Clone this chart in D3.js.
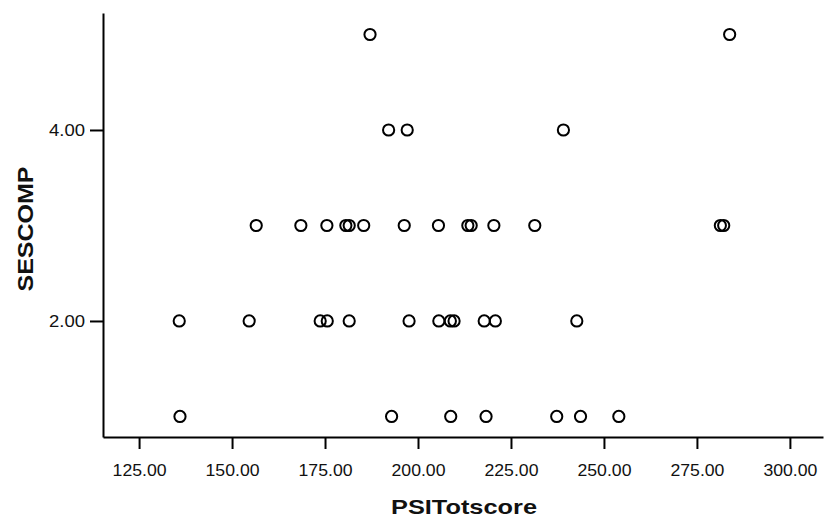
<!DOCTYPE html>
<html><head><meta charset="utf-8">
<script src="https://cdn.jsdelivr.net/npm/d3@7"></script>
<style>body{margin:0;background:#fff}svg{display:block}</style>
</head><body>
<svg id="c" width="825" height="520"></svg>
<script>
const psiTotscore = [187.1, 283.8,
  192.1, 197.1, 239.1,
  156.5, 168.5, 175.5, 180.6, 181.5, 185.4, 196.3, 205.5, 213.4, 214.3, 220.4, 231.4, 281.3, 282.2,
  135.8, 154.6, 173.7, 175.6, 181.5, 197.6, 205.6, 208.7, 209.7, 217.8, 220.8, 242.7,
  136.0, 192.9, 208.8, 218.3, 237.3, 243.7, 254.0];
const sescomp = [5, 5,
  4, 4, 4,
  3, 3, 3, 3, 3, 3, 3, 3, 3, 3, 3, 3, 3, 3,
  2, 2, 2, 2, 2, 2, 2, 2, 2, 2, 2, 2,
  1, 1, 1, 1, 1, 1, 1];
const xTicks = [125, 150, 175, 200, 225, 250, 275, 300];
const yTicks = [2, 4];
const xTitle = "PSITotscore";
const yTitle = "SESCOMP";

const svg = d3.select("#c");
const x = d3.scaleLinear().domain([115.3, 308.9]).range([103, 823]);
const y = d3.scaleLinear().domain([0.785, 5.225]).range([437, 13]);
const font = "'Liberation Sans', Arial, sans-serif";

const xa = svg.append("g").attr("transform", "translate(0,437)")
  .call(d3.axisBottom(x).tickValues(xTicks).tickFormat(d3.format(".2f")).tickSize(12).tickSizeOuter(0));
const ya = svg.append("g").attr("transform", "translate(103,0)")
  .call(d3.axisLeft(y).tickValues(yTicks).tickFormat(d3.format(".2f")).tickSize(13).tickSizeOuter(0));
[xa, ya].forEach(g => {
  g.select(".domain").attr("stroke", "#000").attr("stroke-width", 2);
  g.selectAll(".tick line").attr("stroke", "#000").attr("stroke-width", 2);
  g.selectAll(".tick text").attr("fill", "#111").attr("font-family", font).attr("font-size", 17);
});
xa.selectAll(".tick text").attr("dy", null).attr("y", 39).attr("textLength", 54).attr("lengthAdjust", "spacingAndGlyphs");
ya.selectAll(".tick text").attr("x", -18).attr("dy", "0.35em").attr("textLength", 36).attr("lengthAdjust", "spacingAndGlyphs");

svg.append("text").attr("x", 464).attr("y", 514).attr("text-anchor", "middle")
  .attr("font-family", font).attr("font-weight", "bold").attr("font-size", 21)
  .attr("textLength", 146).attr("lengthAdjust", "spacingAndGlyphs").attr("fill", "#111").text(xTitle);
svg.append("text").attr("transform", "translate(33,229) rotate(-90)").attr("text-anchor", "middle")
  .attr("font-family", font).attr("font-weight", "bold").attr("font-size", 22)
  .attr("textLength", 125).attr("lengthAdjust", "spacingAndGlyphs").attr("fill", "#111").text(yTitle);

svg.append("g").selectAll("circle").data(psiTotscore).join("circle")
  .attr("cx", d => x(d)).attr("cy", (d, i) => y(sescomp[i])).attr("r", 5.6)
  .attr("fill", "none").attr("stroke", "#000").attr("stroke-width", 2);
</script>
</body></html>
